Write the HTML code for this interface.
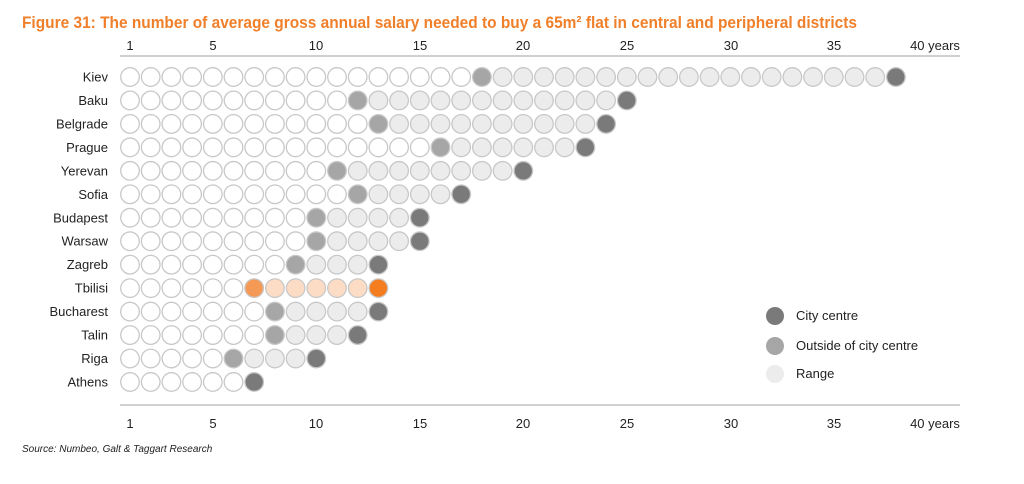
<!DOCTYPE html>
<html><head><meta charset="utf-8"><style>
body{margin:0;background:#fff;width:1024px;height:479px;overflow:hidden;font-family:"Liberation Sans",Arial,sans-serif}
</style></head><body>
<svg id="s" width="1024" height="479" xmlns="http://www.w3.org/2000/svg" font-family="Liberation Sans, Arial, sans-serif">
<text x="22" y="28" font-size="17" font-weight="bold" fill="#f07f2a" textLength="835" lengthAdjust="spacingAndGlyphs">Figure 31: The number of average gross annual salary needed to buy a 65m² flat in central and peripheral districts</text>
<line x1="120" y1="56" x2="960" y2="56" stroke="#d0d0d0" stroke-width="2"/>
<line x1="120" y1="405" x2="960" y2="405" stroke="#d0d0d0" stroke-width="2"/>
<g font-size="13" fill="#222" text-anchor="middle">
<text x="130" y="50">1</text><text x="213" y="50">5</text><text x="316" y="50">10</text><text x="420" y="50">15</text><text x="523" y="50">20</text><text x="627" y="50">25</text><text x="731" y="50">30</text><text x="834" y="50">35</text><text x="935" y="50">40 years</text>
<text x="130" y="428">1</text><text x="213" y="428">5</text><text x="316" y="428">10</text><text x="420" y="428">15</text><text x="523" y="428">20</text><text x="627" y="428">25</text><text x="731" y="428">30</text><text x="834" y="428">35</text><text x="935" y="428">40 years</text>
</g>
<g font-size="13" fill="#222" text-anchor="end" id="labels"></g>
<g id="c"></g>
<circle cx="775" cy="316" r="9" fill="#7a7a7a"/><text x="796" y="320" font-size="13" fill="#222">City centre</text>
<circle cx="775" cy="346" r="9" fill="#a6a6a6"/><text x="796" y="350" font-size="13" fill="#222">Outside of city centre</text>
<circle cx="775" cy="374" r="9" fill="#ececec"/><text x="796" y="378" font-size="13" fill="#222">Range</text>
<text x="22" y="452" font-size="10" font-style="italic" fill="#222">Source: Numbeo, Galt &amp; Taggart Research</text>
</svg>
<script>
var d=[["Kiev",18,38],["Baku",12,25],["Belgrade",13,24],["Prague",16,23],["Yerevan",11,20],["Sofia",12,17],["Budapest",10,15],["Warsaw",10,15],["Zagreb",9,13],["Tbilisi",7,13],["Bucharest",8,13],["Talin",8,12],["Riga",6,10],["Athens",0,7]];
var h="",l="";
d.forEach(function(r,i){var y=77+i*23.46;l+='<text x="108" y="'+(y+4.5)+'">'+r[0]+'</text>';
var t=r[0]=="Tbilisi";
for(var n=1;n<=r[2];n++){var x=130+(n-1)*20.7,f="#fff",st="#c8c8c8";
if(n==r[2])f=t?"#f47d20":"#7a7a7a";else if(n==r[1])f=t?"#f59a56":"#a6a6a6";else if(r[1]&&n>r[1])f=t?"#fcdcc4":"#ececec";
h+='<circle cx="'+x+'" cy="'+y+'" r="9.3" fill="'+f+'" stroke="'+st+'" stroke-width="1.3"/>';}});
document.getElementById("c").innerHTML=h;document.getElementById("labels").innerHTML=l;
</script>
</body></html>
